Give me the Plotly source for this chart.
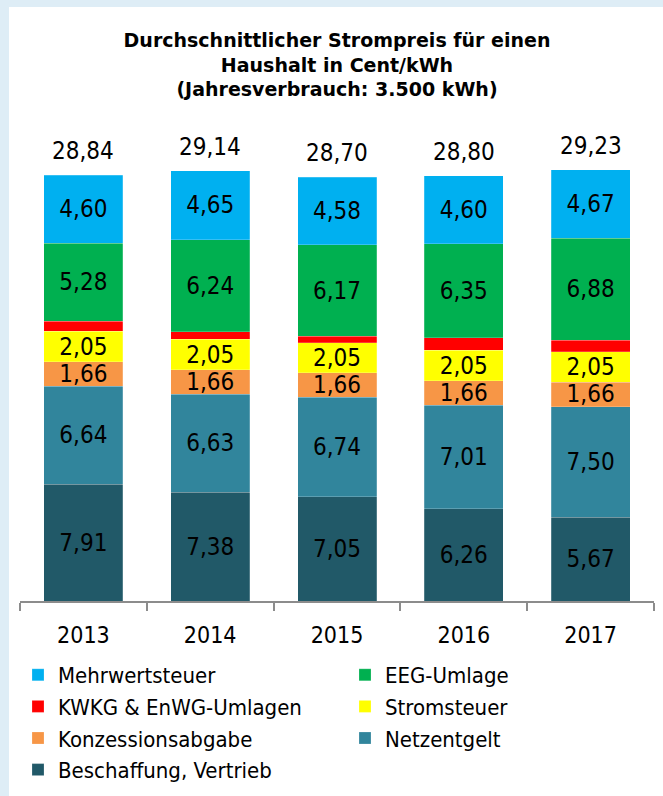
import plotly.graph_objects as go

years = ["2013", "2014", "2015", "2016", "2017"]
totals = [28.84, 29.14, 28.70, 28.80, 29.23]

# bottom to top
series_names = ["Beschaffung, Vertrieb", "Netzentgelt", "Konzessionsabgabe",
                "Stromsteuer", "KWKG & EnWG-Umlagen", "EEG-Umlage", "Mehrwertsteuer"]
beschaffung = [7.91, 7.38, 7.05, 6.26, 5.67]
netzentgelt = [6.64, 6.63, 6.74, 7.01, 7.50]
konzession = [1.66, 1.66, 1.66, 1.66, 1.66]
stromsteuer = [2.05, 2.05, 2.05, 2.05, 2.05]
kwkg = [0.70, 0.53, 0.45, 0.87, 0.80]
eeg = [5.28, 6.24, 6.17, 6.35, 6.88]
mwst = [4.60, 4.65, 4.58, 4.60, 4.67]

series_values = [beschaffung, netzentgelt, konzession, stromsteuer, kwkg, eeg, mwst]
colors = ["#215968", "#31859C", "#F79646", "#FFFF00", "#FF0000", "#00B050", "#00B0F0"]
show_text = [True, True, True, True, False, True, True]

FONT = "DejaVu Sans Condensed"

fig = go.Figure()
for name, vals, col, st in zip(series_names, series_values, colors, show_text):
    fig.add_trace(go.Bar(
        x=years, y=vals, name=name,
        marker=dict(color=col, line=dict(width=0.6, color="rgba(255,255,255,0.35)")),
        texttemplate="%{y:.2f}" if st else None,
        textposition="inside" if st else "none",
        insidetextanchor="middle",
        constraintext="none",
        textfont=dict(family=FONT, size=24, color="black"),
        hoverinfo="x+y+name",
    ))

# total labels above each bar (category axis: position by category index)
for i, tot in enumerate(totals):
    fig.add_annotation(x=i, y=tot, xref="x", yref="y",
                       text=f"{tot:.2f}".replace(".", ","),
                       showarrow=False, yanchor="bottom", yshift=8,
                       font=dict(family=FONT, size=24, color="black"))

PL, PR, PT, PB = 20, 654, 140, 601
PW, PH = PR - PL, PB - PT

# white panel
fig.add_shape(type="rect", xref="paper", yref="paper",
              x0=(9 - PL) / PW, x1=(670 - PL) / PW,
              y0=-(800 - PB) / PH, y1=(PB - 7) / PH,
              fillcolor="white", line=dict(width=0), layer="below")

fig.update_layout(
    width=663, height=796,
    margin=dict(l=PL, r=663 - PR, t=PT, b=796 - PB, autoexpand=False),
    paper_bgcolor="#DEEDF6",
    plot_bgcolor="rgba(0,0,0,0)",
    barmode="stack",
    bargap=0.377,
    separators=",.",
    font=dict(family=FONT, size=22, color="black"),
    title=dict(
        text="<b>Durchschnittlicher Strompreis für einen<br>Haushalt in Cent/kWh<br>(Jahresverbrauch: 3.500 kWh)</b>",
        x=0.5, xanchor="center", xref="paper",
        y=1 - 47 / 796, yanchor="top",
        font=dict(family="DejaVu Sans", size=19, color="black"),
    ),
    xaxis=dict(
        type="category",
        range=[-0.5, 4.5],
        showline=True, linecolor="#8C8C8C", linewidth=2,
        ticks="outside", tickson="boundaries", ticklen=8, tickcolor="#8C8C8C", tickwidth=2,
        tickfont=dict(family=FONT, size=23, color="black"),
        ticklabelstandoff=12,
        showgrid=False, zeroline=False,
    ),
    yaxis=dict(range=[0, PH / 14.76], visible=False, showgrid=False, zeroline=False),
    legend=dict(
        orientation="h", traceorder="reversed",
        x=-2 / PW, xanchor="left", y=-(654 - PB) / PH, yanchor="top",
        entrywidth=282, entrywidthmode="pixels",
        font=dict(family=FONT, size=22, color="black"),
        bgcolor="rgba(0,0,0,0)",
        itemclick=False, itemdoubleclick=False,
    ),
    showlegend=True,
)

fig.write_html("out.html",
               config={"displayModeBar": False},
               post_script="document.body.style.margin='0';document.body.style.background='#DEEDF6';")
